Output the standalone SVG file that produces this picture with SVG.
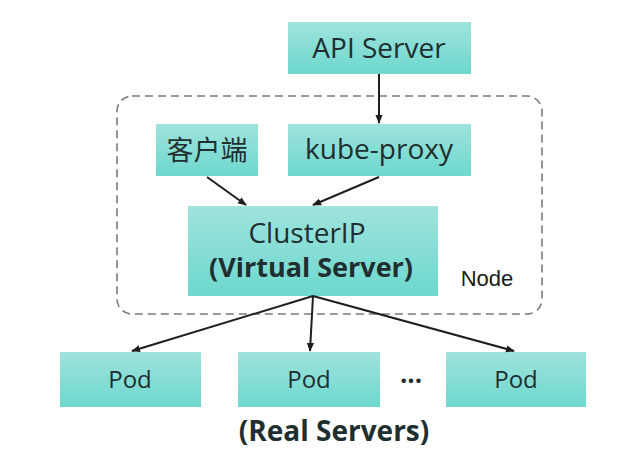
<svg xmlns="http://www.w3.org/2000/svg" width="639" height="461" viewBox="0 0 639 461">
  <defs>
    <linearGradient id="teal" x1="0" y1="0" x2="0" y2="1">
      <stop offset="0" stop-color="#9fe3dc"/>
      <stop offset="1" stop-color="#6dd8ce"/>
    </linearGradient>
    <marker id="arr" viewBox="0 0 10 10" refX="9" refY="5" markerWidth="9" markerHeight="9" markerUnits="userSpaceOnUse" orient="auto">
      <path d="M0,1 L10,5 L0,9 z" fill="#1e1e1e"/>
    </marker>
  </defs>
  <style>
    .box { fill: url(#teal); }
    .t { font-family: "Open Sans", "Noto Sans CJK SC", sans-serif; fill: #1f2f2f; text-anchor: middle; }
    .conn { stroke: #1e1e1e; stroke-width: 2; fill: none; marker-end: url(#arr); }
  </style>
  <rect width="639" height="461" fill="#ffffff"/>

  <g id="node-boundary">
    <rect x="117" y="96" width="425" height="218" rx="15" ry="15" fill="none" stroke="#7a7a7a" stroke-width="1.6" stroke-dasharray="8 5"/>
    <text x="487" y="286" font-family="'Liberation Sans', Arial, sans-serif" font-size="22" fill="#1a1a1a" text-anchor="middle">Node</text>
  </g>

  <g id="api-server">
    <rect class="box" x="288" y="22" width="183" height="52"/>
    <text class="t" x="379" y="58" font-size="28">API Server</text>
  </g>

  <g id="client">
    <rect class="box" x="156" y="124" width="102" height="52"/>
    <text class="t" x="207" y="160" font-size="27">客户端</text>
  </g>

  <g id="kube-proxy">
    <rect class="box" x="288" y="124" width="183" height="52"/>
    <text class="t" x="379" y="159" font-size="28">kube-proxy</text>
  </g>

  <g id="clusterip">
    <rect class="box" x="188" y="206" width="250" height="90"/>
    <text class="t" x="307" y="243" font-size="28" fill="#1c3c3c">ClusterIP</text>
    <text class="t" x="311" y="277" font-size="27" font-weight="bold">(Virtual Server)</text>
  </g>

  <g id="pod1">
    <rect class="box" x="60" y="352" width="141" height="55"/>
    <text class="t" x="130" y="388" font-size="24" fill="#123a3a">Pod</text>
  </g>
  <g id="pod2">
    <rect class="box" x="238" y="352" width="142" height="55"/>
    <text class="t" x="309" y="388" font-size="24" fill="#123a3a">Pod</text>
  </g>
  <g id="pod3">
    <rect class="box" x="446" y="352" width="140" height="55"/>
    <text class="t" x="516" y="388" font-size="24" fill="#123a3a">Pod</text>
  </g>

  <g id="ellipsis">
    <text class="t" x="411" y="390" font-size="26" font-weight="bold" fill="#1a1a1a">···</text>
  </g>

  <g id="real-servers">
    <text class="t" x="334" y="441" font-size="28" font-weight="bold" fill="#111">(Real Servers)</text>
  </g>

  <g id="connectors">
    <line class="conn" x1="379" y1="74" x2="379" y2="123"/>
    <line class="conn" x1="207" y1="177" x2="246" y2="205"/>
    <line class="conn" x1="379" y1="177" x2="313" y2="205"/>
    <line class="conn" x1="313" y1="296" x2="132" y2="351"/>
    <line class="conn" x1="313" y1="296" x2="310" y2="351"/>
    <line class="conn" x1="313" y1="296" x2="514" y2="351"/>
  </g>
</svg>
